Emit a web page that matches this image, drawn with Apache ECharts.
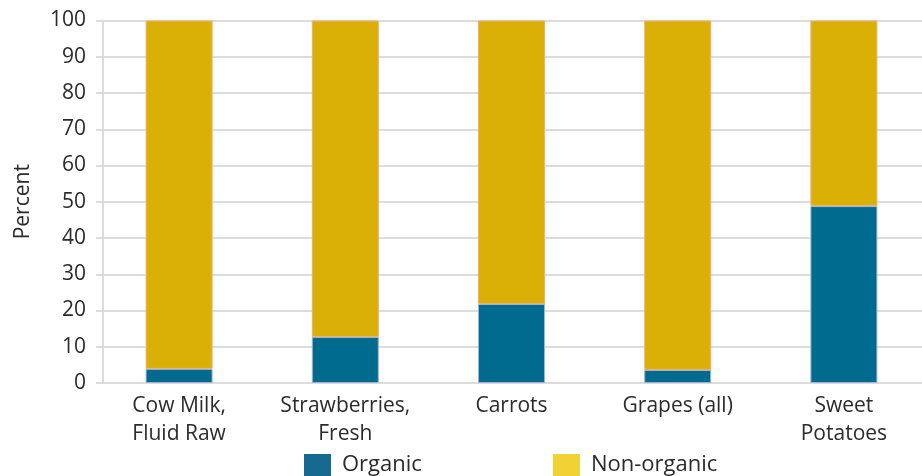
<!DOCTYPE html>
<html>
<head>
<meta charset="utf-8">
<script src="https://cdn.jsdelivr.net/npm/echarts@6/dist/echarts.min.js"></script>
<style>
  html, body { margin: 0; padding: 0; background: #fff; overflow: hidden; }
  #chart { width: 932px; height: 476px; }
</style>
</head>
<body>
<div id="chart"></div>
<script>
const categories = ['Cow Milk,\nFluid Raw', 'Strawberries,\nFresh', 'Carrots', 'Grapes (all)', 'Sweet\nPotatoes']
const organic = [3.9, 12.7, 21.8, 3.6, 48.8]
const nonOrganic = [96.1, 87.3, 78.2, 96.4, 51.2]
const seriesNames = ['Organic', 'Non-organic']

const fontFamily = '"Open Sans", Lato, sans-serif'
const textColor = '#2b2b2b'

const chart = echarts.init(document.getElementById('chart'))

function legendAt(name, color, left) {
  return {
    data: [{ name: name, itemStyle: { color: color, borderWidth: 0 } }],
    left: left,
    top: 454,
    itemWidth: 27,
    itemHeight: 22,
    icon: 'rect',
    padding: 0,
    textStyle: {
      color: textColor,
      fontSize: 22,
      fontFamily: fontFamily,
      padding: [0, 0, 0, 6]
    }
  }
}

chart.setOption({
  animation: false,
  grid: {
    left: 96,
    top: 20.5,
    width: 831,
    height: 362.5,
    containLabel: false
  },
  legend: [
    legendAt(seriesNames[0], '#176a8f', 304),
    legendAt(seriesNames[1], '#f0d235', 553)
  ],
  xAxis: {
    type: 'category',
    data: categories,
    axisLine: { show: false },
    axisTick: { show: false },
    axisLabel: {
      color: textColor,
      fontSize: 21,
      fontFamily: fontFamily,
      lineHeight: 28,
      margin: 9,
      interval: 0
    }
  },
  yAxis: {
    type: 'value',
    min: 0,
    max: 100,
    interval: 10,
    offset: -7,
    name: 'Percent',
    nameLocation: 'middle',
    nameGap: 69,
    nameTextStyle: {
      color: textColor,
      fontSize: 21,
      fontFamily: fontFamily
    },
    axisLine: { show: true, lineStyle: { color: '#dcdcdc', width: 2 } },
    axisTick: { show: true, length: 7, lineStyle: { color: '#dcdcdc', width: 2 } },
    axisLabel: {
      color: textColor,
      fontSize: 21,
      fontFamily: fontFamily,
      margin: 17
    },
    splitLine: { lineStyle: { color: '#dcdcdc', width: 2 } }
  },
  series: [
    {
      name: seriesNames[0],
      type: 'bar',
      stack: 'total',
      barWidth: 67,
      data: organic,
      itemStyle: { color: '#006a8f', borderColor: '#9fb2d6', borderWidth: 1 }
    },
    {
      name: seriesNames[1],
      type: 'bar',
      stack: 'total',
      barWidth: 67,
      data: nonOrganic,
      itemStyle: { color: '#dbb006', borderColor: '#f0b070', borderWidth: 1 }
    }
  ]
})
</script>
</body>
</html>
